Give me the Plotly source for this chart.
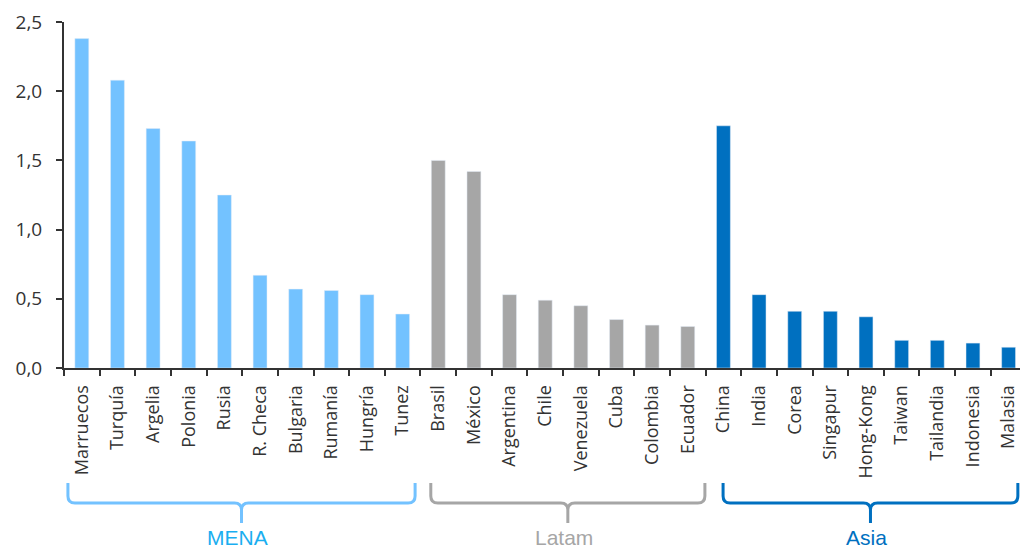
import plotly.graph_objects as go

mena = ["Marruecos", "Turquía", "Argelia", "Polonia", "Rusia", "R. Checa",
        "Bulgaria", "Rumanía", "Hungría", "Tunez"]
mena_vals = [2.38, 2.08, 1.73, 1.64, 1.25, 0.67, 0.57, 0.56, 0.53, 0.39]
latam = ["Brasil", "México", "Argentina", "Chile", "Venezuela", "Cuba",
         "Colombia", "Ecuador"]
latam_vals = [1.50, 1.42, 0.53, 0.49, 0.45, 0.35, 0.31, 0.30]
asia = ["China", "India", "Corea", "Singapur", "Hong-Kong", "Taiwan",
        "Tailandia", "Indonesia", "Malasia"]
asia_vals = [1.75, 0.53, 0.41, 0.41, 0.37, 0.20, 0.20, 0.18, 0.15]

group_names = ["MENA", "Latam", "Asia"]
bar_colors = ["#73c2ff", "#a6a6a6", "#0070c0"]
text_colors = ["#1aaef0", "#a6a6a6", "#0070c0"]
y_ticks = [0, 0.5, 1.0, 1.5, 2.0, 2.5]

groups = [(mena, mena_vals), (latam, latam_vals), (asia, asia_vals)]
all_cats = mena + latam + asia

W, H = 1021, 549
ML, MR, MT, MB = 64, 1, 22, 181
XMAX = 26.32
PW = W - ML - MR
PH = H - MT - MB

fig = go.Figure()
for (cats, vals), col, name in zip(groups, bar_colors, group_names):
    fig.add_trace(go.Bar(x=cats, y=vals, marker_color=col, name=name,
                         width=0.39, showlegend=False))

def px2paper(px, py):
    return (px - ML) / PW, (H - MB - py) / PH

def idx2px(i):
    return ML + (i + 0.5) / (XMAX + 0.5) * PW

spans = [(-0.39, 9.35), (9.79, 17.48), (17.99, 26.26)]
y_top, y_h, y_tip = 483, 503, 523
r = 7

def bracket(xl, xr):
    xc = (xl + xr) / 2
    def P(x, y):
        a, b = px2paper(x, y)
        return f"{a:.5f},{b:.5f}"
    d = (f"M {P(xl, y_top)} L {P(xl, y_h - r)} Q {P(xl, y_h)} {P(xl + r, y_h)} "
         f"L {P(xc - r, y_h)} Q {P(xc, y_h)} {P(xc, y_h + r)} L {P(xc, y_tip)} "
         f"M {P(xc, y_h + r)} Q {P(xc, y_h)} {P(xc + r, y_h)} "
         f"L {P(xr - r, y_h)} Q {P(xr, y_h)} {P(xr, y_h - r)} L {P(xr, y_top)}")
    return d, xc

for (a, b), col, tcol, name in zip(spans, bar_colors, text_colors, group_names):
    xl, xr = idx2px(a), idx2px(b)
    d, xc = bracket(xl, xr)
    fig.add_shape(type="path", path=d, xref="paper", yref="paper",
                  line=dict(color=col, width=3))
    ax, ay = px2paper(xc - 4, 537)
    fig.add_annotation(x=ax, y=ay, xref="paper", yref="paper", text=name,
                       showarrow=False, xanchor="center", yanchor="middle",
                       font=dict(size=21, color=tcol,
                                 family="Liberation Sans, Arial, sans-serif"))

fig.update_layout(
    width=W, height=H,
    margin=dict(l=ML, r=MR, t=MT, b=MB),
    plot_bgcolor="white", paper_bgcolor="white",
    separators=",.",
    font=dict(family="Open Sans, sans-serif", color="#333333"),
    xaxis=dict(categoryorder="array", categoryarray=all_cats,
               range=[-0.5, XMAX], tickangle=-90, tickson="boundaries",
               ticks="outside", ticklen=6, tickwidth=2, tickcolor="#333333",
               showline=True, linecolor="#333333", linewidth=2,
               ticklabelstandoff=8,
               tickfont=dict(size=18, color="#333333"), showgrid=False),
    yaxis=dict(range=[0, 2.5], tickvals=y_ticks, tickformat=".1f",
               ticks="outside", ticklen=6, tickwidth=2, tickcolor="#333333",
               showline=True, linecolor="#333333", linewidth=2,
               showgrid=False, zeroline=False, ticklabelstandoff=10,
               tickfont=dict(size=19, color="#333333")),
)

fig.write_html(
    "out.html",
    config={"displayModeBar": False},
    post_script="document.body.style.margin='0';document.body.style.overflow='hidden';",
)
